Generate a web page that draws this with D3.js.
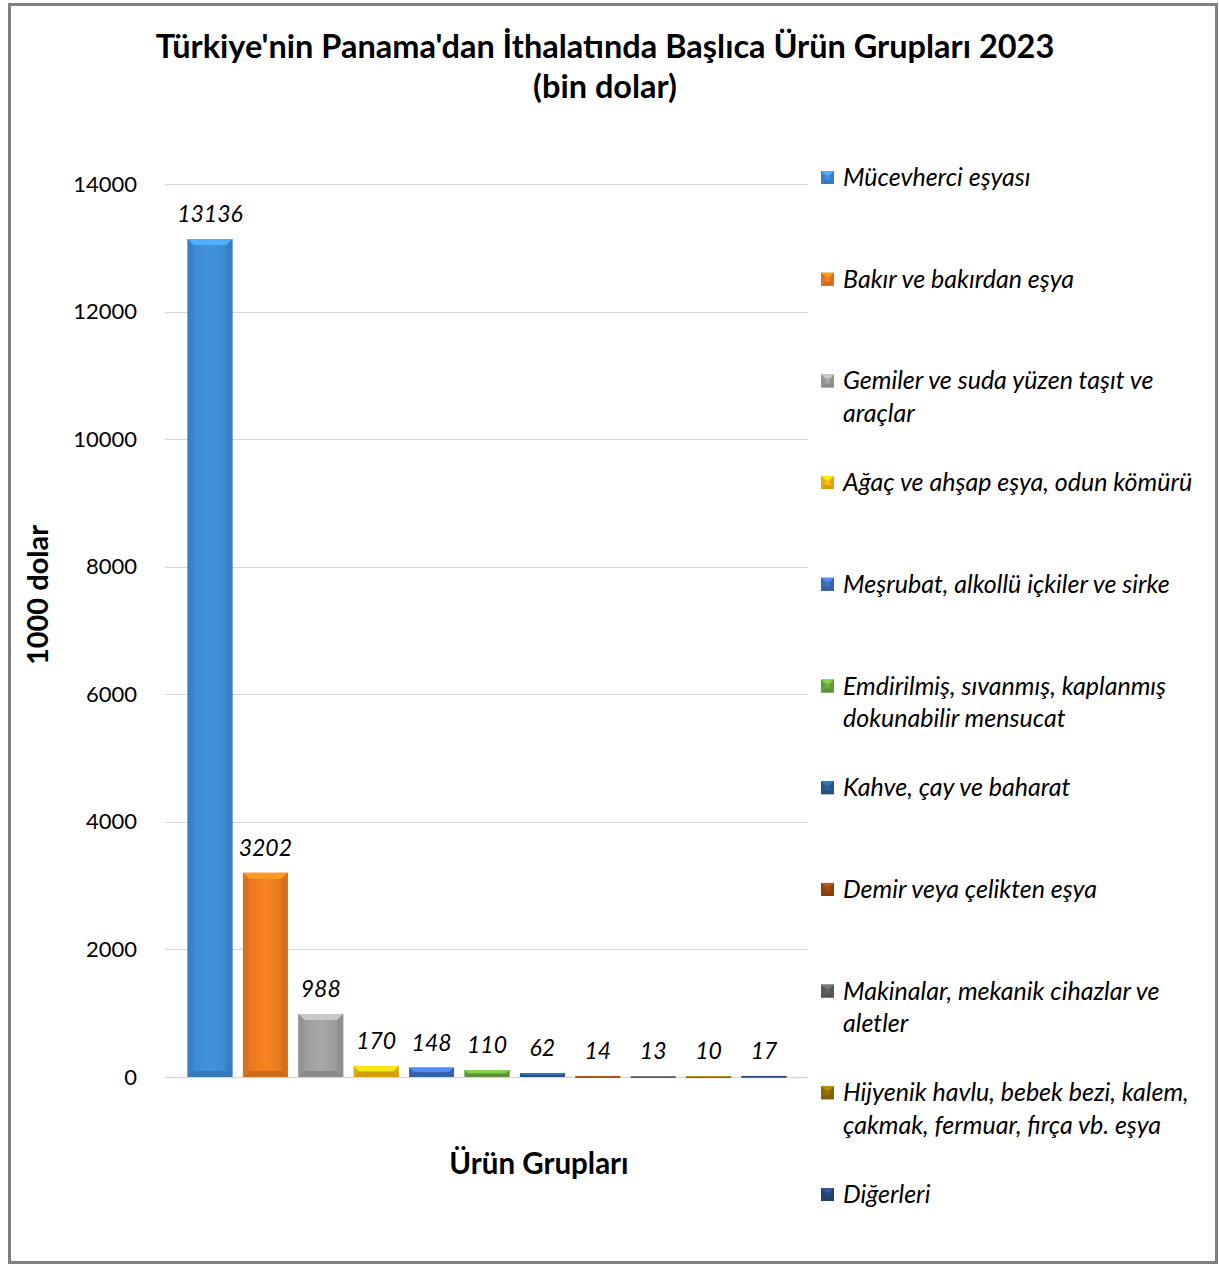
<!DOCTYPE html>
<html>
<head>
<meta charset="utf-8">
<script src="https://cdn.jsdelivr.net/npm/d3@7"></script>
<style>
  html, body { margin: 0; padding: 0; background: #fff; }
  svg { display: block; }
  text { font-family: Lato, "Open Sans", "Liberation Sans", sans-serif; fill: #000; }
</style>
</head>
<body>
<svg id="chart" width="1219" height="1266"></svg>
<script>
// ---- data ----
const categories = [
  "Mücevherci eşyası",
  "Bakır ve bakırdan eşya",
  "Gemiler ve suda yüzen taşıt ve\naraçlar",
  "Ağaç ve ahşap eşya, odun kömürü",
  "Meşrubat, alkollü içkiler ve sirke",
  "Emdirilmiş, sıvanmış, kaplanmış\ndokunabilir mensucat",
  "Kahve, çay ve baharat",
  "Demir veya çelikten eşya",
  "Makinalar, mekanik cihazlar ve\naletler",
  "Hijyenik havlu, bebek bezi, kalem,\nçakmak, fermuar, fırça vb. eşya",
  "Diğerleri"
];
const values = [13136, 3202, 988, 170, 148, 110, 62, 14, 13, 10, 17];
const colors = ["#4192e0", "#f98220", "#a8a8a8", "#ffc20e", "#4474c8", "#6fb044",
                "#2b639a", "#a04a12", "#656565", "#9a7407", "#2a4a80"];
const yTicks = [0, 2000, 4000, 6000, 8000, 10000, 12000, 14000];
const titleLines = ["Türkiye'nin Panama'dan İthalatında Başlıca Ürün Grupları 2023", "(bin dolar)"];
const yAxisTitle = "1000 dolar";
const xAxisTitle = "Ürün Grupları";

// ---- layout ----
const svg = d3.select("#chart");
const W = 1219, H = 1266;
const gridLeft = 165, gridRight = 808;
const y = d3.scaleLinear().domain([0, 14000]).range([1077, 184]);
const x = d3.scaleBand().domain(d3.range(categories.length)).range([182, 792]).paddingInner(0.19).paddingOuter(0.1);

// border
svg.append("rect").attr("x", 9.5).attr("y", 4.5).attr("width", W - 12).attr("height", H - 8)
  .attr("fill", "#fff").attr("stroke", "#808080").attr("stroke-width", 3);

// title
svg.append("g").selectAll("text").data(titleLines).join("text")
  .attr("x", 605).attr("y", (d, i) => 58 + i * 40)
  .attr("text-anchor", "middle").attr("font-weight", "bold").attr("font-size", 32.5)
  .text(d => d);

// gridlines
svg.append("g").selectAll("line").data(yTicks).join("line")
  .attr("x1", gridLeft).attr("x2", gridRight)
  .attr("y1", d => Math.round(y(d)) + 0.5).attr("y2", d => Math.round(y(d)) + 0.5)
  .attr("stroke", "#d9d9d9").attr("stroke-width", d => d === 0 ? 1.5 : 1);

// y axis labels
const yAxis = d3.axisLeft(y).tickValues(yTicks).tickFormat(d3.format("d")).tickSize(0).tickPadding(0);
const yg = svg.append("g").attr("transform", "translate(137,0)").call(yAxis);
yg.select(".domain").remove();
yg.selectAll("text").attr("font-size", 22).attr("font-family", "Lato, sans-serif").attr("fill", "#000");

// axis titles
svg.append("text").attr("transform", "translate(48,595) rotate(-90)")
  .attr("text-anchor", "middle").attr("font-weight", "bold").attr("font-size", 29).text(yAxisTitle);
svg.append("text").attr("x", 539).attr("y", 1174)
  .attr("text-anchor", "middle").attr("font-weight", "bold").attr("font-size", 29.5).text(xAxisTitle);

// gradients
const defs = svg.append("defs");
colors.forEach((c, i) => {
  const g = defs.append("linearGradient").attr("id", "g" + i).attr("x1", 0).attr("x2", 1).attr("y1", 0).attr("y2", 0);
  const base = d3.color(c);
  g.append("stop").attr("offset", "0%").attr("stop-color", base.darker(0.5));
  g.append("stop").attr("offset", "15%").attr("stop-color", base.darker(0.2));
  g.append("stop").attr("offset", "50%").attr("stop-color", base);
  g.append("stop").attr("offset", "85%").attr("stop-color", base.darker(0.2));
  g.append("stop").attr("offset", "100%").attr("stop-color", base.darker(0.5));
});

function bevel(g, x0, y0, w, h, c, id, b0) {
  g.append("rect").attr("x", x0).attr("y", y0).attr("width", w).attr("height", h).attr("fill", `url(#g${id})`);
  const b = Math.min(b0, h / 2, w / 2);
  const base = d3.color(c);
  const x1 = x0 + w, y1 = y0 + h;
  g.append("polygon").attr("points", [[x0, y0], [x1, y0], [x1 - b, y0 + b], [x0 + b, y0 + b]].join(" "))
    .attr("fill", base.brighter(0.5));
  g.append("polygon").attr("points", [[x0, y1], [x1, y1], [x1 - b, y1 - b], [x0 + b, y1 - b]].join(" "))
    .attr("fill", base.darker(0.55));
  g.append("polygon").attr("points", [[x0, y0], [x0 + b, y0 + b], [x0 + b, y1 - b], [x0, y1]].join(" "))
    .attr("fill", base.darker(0.35)).attr("opacity", 0.8);
  g.append("polygon").attr("points", [[x1, y0], [x1 - b, y0 + b], [x1 - b, y1 - b], [x1, y1]].join(" "))
    .attr("fill", base.darker(0.45)).attr("opacity", 0.8);
}

// bars
const barsG = svg.append("g");
values.forEach((v, i) => {
  const g = barsG.append("g");
  const top = y(v), bottom = y(0);
  bevel(g, x(i), top, x.bandwidth(), Math.max(bottom - top, 1.5), colors[i], i, 6);
});

// labels
svg.append("g").selectAll("text").data(values).join("text")
  .attr("x", (d, i) => x(i) + x.bandwidth() / 2)
  .attr("y", d => y(d) - 17)
  .attr("text-anchor", "middle").attr("font-style", "italic").attr("font-size", 23)
  .text(d => d);

// legend
const legend = svg.append("g");
categories.forEach((c, i) => {
  const ly = 178 + i * 101.7;
  const g = legend.append("g");
  bevel(g, 821, ly - 7, 13, 13, colors[i], i, 4);
  const t = g.append("text").attr("x", 843).attr("y", ly + 8)
    .attr("font-style", "italic").attr("font-size", 25);
  c.split("\n").forEach((line, k) => {
    t.append("tspan").attr("x", 843).attr("dy", k === 0 ? 0 : 32.5).text(line);
  });
});
</script>
</body>
</html>
